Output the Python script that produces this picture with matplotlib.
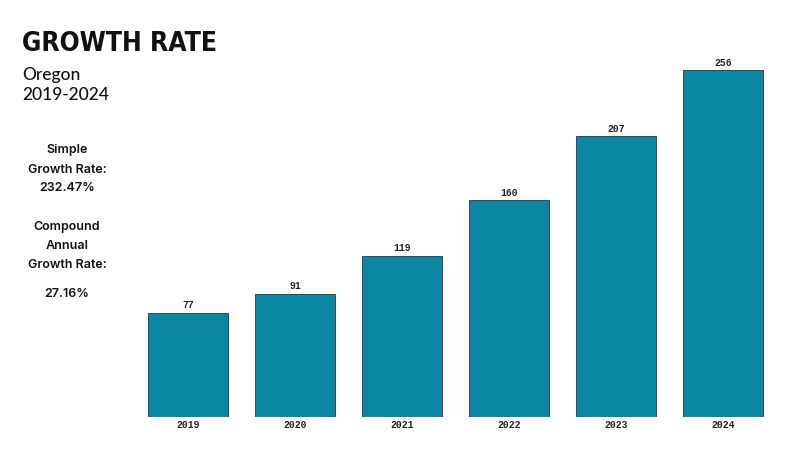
import matplotlib

matplotlib.use("Agg")
import matplotlib.pyplot as plt

years = ["2019", "2020", "2021", "2022", "2023", "2024"]
values = [77, 91, 119, 160, 207, 256]
simple_rate = "232.47%"
cagr = "27.16%"

BAR_COLOR = "#0b87a3"

fig = plt.figure(figsize=(8, 4.5), dpi=100)
ax = fig.add_axes([134.5 / 800, 33 / 450, 642 / 800, 380 / 450])

x = range(len(years))
bars = ax.bar(x, values, width=0.75, color=BAR_COLOR, edgecolor="#333333", linewidth=0.6)
for xi, v in zip(x, values):
    ax.text(xi, v + 1.5, str(v), ha="center", va="bottom", fontsize=7,
            family="Liberation Mono", fontweight="bold", color="#222222")

ax.set_xlim(-0.5, len(years) - 0.5)
ax.set_ylim(0, 280)
ax.set_xticks(list(x))
ax.set_xticklabels(years, family="Liberation Mono", fontweight="bold", fontsize=7, color="#222222")
ax.tick_params(axis="x", length=0, pad=2)
ax.set_yticks([])
for s in ax.spines.values():
    s.set_visible(False)

# header
fig.text(22 / 800, 1 - 51 / 450, "GROWTH RATE", family="DejaVu Sans",
         fontstretch="condensed", fontweight="bold", fontsize=19,
         color="#111111", va="baseline")
fig.text(22 / 800, 1 - 80 / 450, "Oregon", family="Lato", fontweight="medium",
         fontsize=12.5, color="#111111", va="baseline")
fig.text(22 / 800, 1 - 100 / 450, "2019-2024", family="Lato", fontweight="medium",
         fontsize=12.5, color="#111111", va="baseline")

# side notes
side = [("Simple", 150), ("Growth Rate:", 170), (simple_rate, 188),
        ("Compound", 227), ("Annual", 246), ("Growth Rate:", 265), (cagr, 294)]
for txt, y in side:
    fig.text(67 / 800, 1 - y / 450, txt, ha="center", va="center",
             family="Inter", fontweight="semibold", fontsize=9, color="#111111")

fig.savefig("out.png", dpi=100)
